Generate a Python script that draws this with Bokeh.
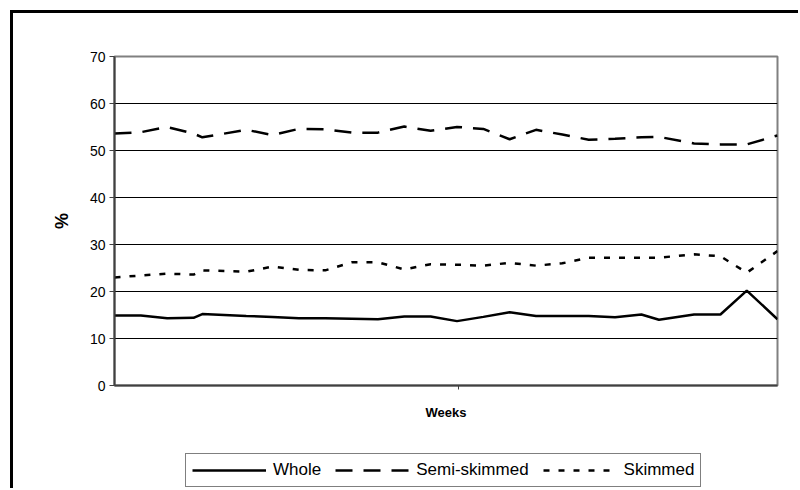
from bokeh.plotting import figure
from bokeh.models import FixedTicker, Legend, LegendItem, Range1d
from bokeh.layouts import column
from bokeh.embed import file_html
from bokeh.resources import INLINE

# ---- data ----
weeks = [0, 3, 6, 9, 10, 15, 18, 21, 24, 27, 30, 33, 36, 39, 42, 45, 48, 51, 54, 57, 60, 62, 66, 69, 72, 75.5]
whole = [14.9, 14.9, 14.3, 14.4, 15.2, 14.8, 14.6, 14.3, 14.3, 14.2, 14.1, 14.7, 14.7, 13.7, 14.6, 15.6,
         14.8, 14.8, 14.8, 14.5, 15.1, 14.0, 15.1, 15.1, 20.2, 14.1]
semi_skimmed = [53.6, 53.9, 55.0, 53.6, 52.8, 54.4, 53.3, 54.6, 54.5, 53.8, 53.8, 55.1, 54.2, 55.0, 54.6, 52.4,
                54.4, 53.4, 52.3, 52.5, 52.8, 52.9, 51.5, 51.3, 51.3, 53.2]
skimmed = [23.0, 23.4, 23.8, 23.6, 24.5, 24.2, 25.3, 24.6, 24.5, 26.2, 26.2, 24.7, 25.8, 25.7, 25.5, 26.1,
           25.5, 26.0, 27.2, 27.2, 27.2, 27.2, 27.9, 27.5, 24.0, 28.6]
series_names = ["Whole", "Semi-skimmed", "Skimmed"]
y_ticks = [0, 10, 20, 30, 40, 50, 60, 70]
x_ticks = [39.2]
x_label = "Weeks"
y_label = "%"

FONT = "Liberation Sans"
W = 785

p = figure(width=W, height=427, output_backend="svg", toolbar_location=None,
           x_range=Range1d(weeks[0], weeks[-1]), y_range=Range1d(0, 70),
           min_border_left=101, min_border_right=21, min_border_top=43, min_border_bottom=55)
p.background_fill_color = "white"
p.border_fill_color = "white"
p.outline_line_color = "#808080"
p.outline_line_width = 2

# y axis
p.yaxis.ticker = FixedTicker(ticks=y_ticks)
p.yaxis.axis_line_color = "#404040"
p.yaxis.axis_line_width = 2
p.yaxis.major_tick_line_color = "#404040"
p.yaxis.major_tick_out = 5
p.yaxis.major_tick_in = 0
p.yaxis.minor_tick_line_color = None
p.yaxis.major_label_text_font = FONT
p.yaxis.major_label_text_font_size = "14px"
p.yaxis.major_label_text_color = "black"
p.yaxis.major_label_standoff = 4
p.yaxis.axis_label = y_label
p.yaxis.axis_label_text_font = FONT
p.yaxis.axis_label_text_font_style = "bold"
p.yaxis.axis_label_text_font_size = "18px"
p.yaxis.axis_label_text_color = "black"
p.yaxis.axis_label_standoff = 15

# x axis
p.xaxis.ticker = FixedTicker(ticks=x_ticks)
p.xaxis.major_label_overrides = {x_ticks[0]: ""}
p.xaxis.axis_line_color = "#404040"
p.xaxis.axis_line_width = 2
p.xaxis.major_tick_line_color = "#404040"
p.xaxis.major_tick_out = 4
p.xaxis.major_tick_in = 0
p.xaxis.minor_tick_line_color = None
p.xaxis.major_label_standoff = 0
p.xaxis.axis_label = x_label
p.xaxis.axis_label_text_font = FONT
p.xaxis.axis_label_text_font_style = "bold"
p.xaxis.axis_label_text_font_size = "13px"
p.xaxis.axis_label_text_color = "black"
p.xaxis.axis_label_standoff = 15

# grid
p.xgrid.visible = False
p.ygrid.ticker = FixedTicker(ticks=y_ticks)
p.ygrid.grid_line_color = "black"
p.ygrid.grid_line_width = 1

styles = [dict(line_color="black", line_width=2.5),
          dict(line_color="black", line_width=2.5, line_dash="17 11"),
          dict(line_color="black", line_width=2.5, line_dash="6 9")]
series = [whole, semi_skimmed, skimmed]
for vals, st in zip(series, styles):
    p.line(weeks, vals, **st)

# legend strip: second figure whose frame is aligned with the chart frame;
# its ranges keep the (repeated) series out of view so that only the legend shows
p2 = figure(width=W, height=48, output_backend="svg", toolbar_location=None,
            x_range=Range1d(weeks[0], weeks[-1]), y_range=Range1d(-2, -1),
            min_border_left=0, min_border_right=0, min_border_top=0, min_border_bottom=0)
p2.axis.visible = False
p2.grid.visible = False
p2.outline_line_color = None
p2.background_fill_color = "white"
p2.border_fill_color = "white"
items = []
for name, vals, st in zip(series_names, series, styles):
    r = p2.line(weeks, vals, **st)
    items.append(LegendItem(label=name, renderers=[r]))

legend = Legend(items=items, orientation="horizontal", location=(71, 1))
legend.label_text_font = FONT
legend.label_text_font_size = "17px"
legend.label_text_color = "black"
legend.glyph_width = 74
legend.glyph_height = 20
legend.label_height = 20
legend.label_standoff = 7
legend.spacing = 14
legend.padding = 6
legend.margin = 0
legend.border_line_color = "black"
legend.border_line_width = 1
legend.background_fill_color = "white"
legend.background_fill_alpha = 1
p2.add_layout(legend)

layout = column(p, p2, spacing=0)
layout.styles = {"margin-left": "10px", "margin-top": "10px",
                 "border-left": "3px solid black", "border-top": "3px solid black"}

open("out.html", "w").write(file_html(layout, INLINE))
